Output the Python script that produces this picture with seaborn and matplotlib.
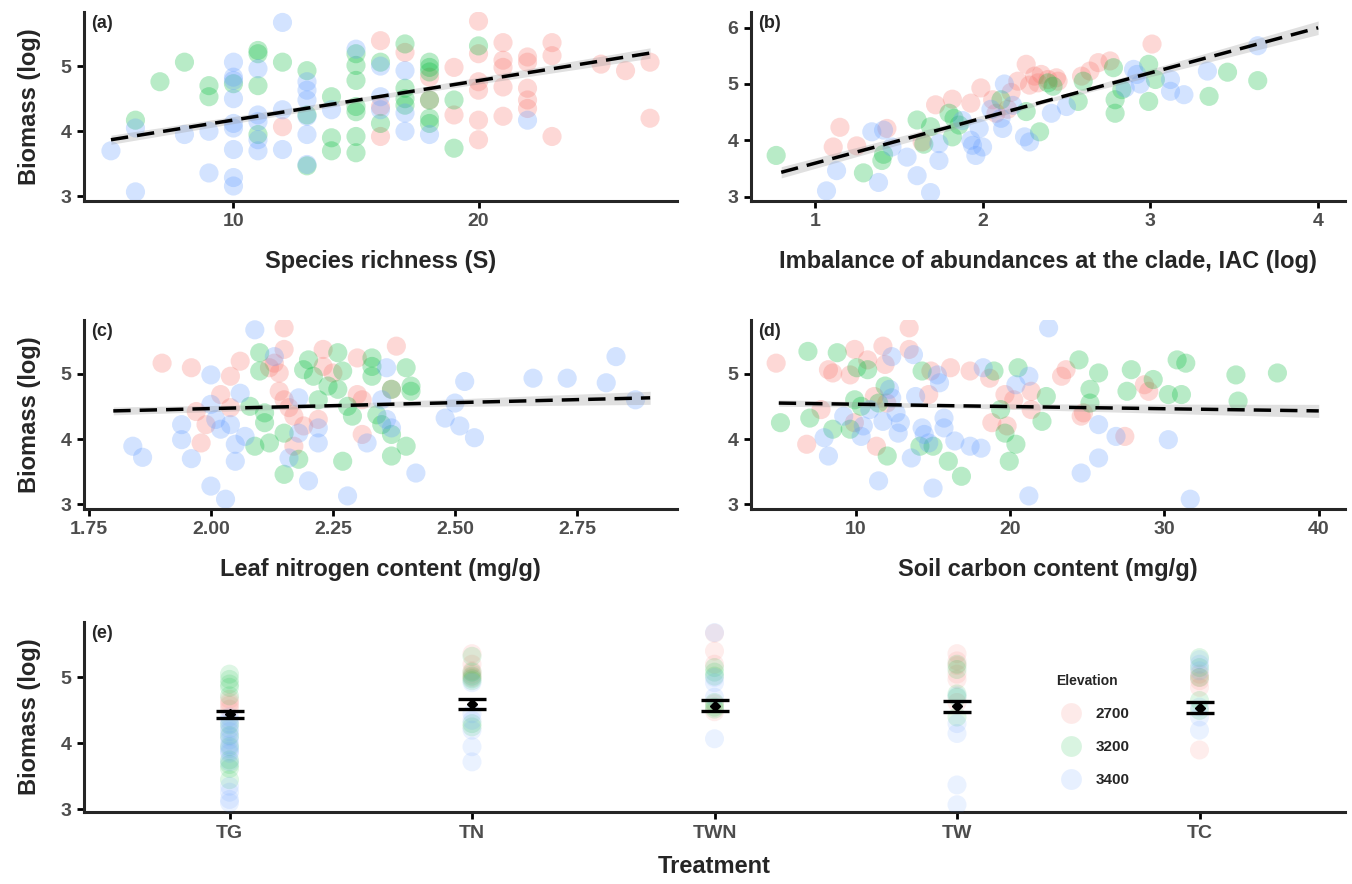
import numpy as np
import pandas as pd
import matplotlib.pyplot as plt
import seaborn as sns
from matplotlib.lines import Line2D

sns.set_style("ticks")
plt.rcParams["font.family"] = ["Liberation Sans Narrow", "Liberation Sans", "DejaVu Sans"]
plt.rcParams["font.weight"] = "bold"

ELEVATIONS = ["2700", "3200", "3400"]
PALETTE = {"2700": "#F8766D", "3200": "#00BA38", "3400": "#619CFF"}

# ---------------------------------------------------------------------------
# (a) species richness vs biomass
# ---------------------------------------------------------------------------
A_X_2700 = [12, 16, 16, 16, 17, 18, 18, 19, 19, 20, 20, 20, 20, 20, 20, 21, 21, 21, 21, 21,
            22, 22, 22, 22, 22, 23, 23, 23, 25, 26, 27, 27]
A_Y_2700 = [4.07, 5.39, 4.38, 3.92, 5.21, 4.83, 4.48, 4.98, 4.25, 5.69, 5.19, 4.76, 4.63, 4.17,
            3.87, 5.36, 5.09, 4.98, 4.68, 4.23, 5.14, 5.06, 4.66, 4.48, 4.35, 5.36, 5.16, 3.92,
            5.03, 4.93, 5.06, 4.20]
A_X_3200 = [6, 7, 8, 9, 9, 10, 11, 11, 11, 11, 12, 13, 13, 13, 14, 14, 14, 15, 15, 15, 15, 15,
            15, 15, 16, 16, 17, 17, 17, 17, 18, 18, 18, 18, 18, 18, 19, 19, 20]
A_Y_3200 = [4.17, 4.76, 5.06, 4.70, 4.53, 4.73, 5.24, 5.19, 4.70, 3.95, 5.06, 4.93, 3.47, 4.25,
            4.53, 3.90, 3.70, 5.19, 5.01, 4.78, 4.38, 4.30, 3.92, 3.67, 5.06, 4.12, 5.34, 4.66,
            4.50, 4.40, 5.06, 4.98, 4.91, 4.48, 4.20, 4.12, 4.48, 3.74, 5.31]
A_X_3400 = [5, 6, 6, 8, 9, 9, 10, 10, 10, 10, 10, 10, 10, 10, 10, 11, 11, 11, 11, 11, 12, 12,
            12, 13, 13, 13, 13, 13, 13, 14, 15, 16, 16, 16, 17, 17, 17, 18, 22]
A_Y_3400 = [3.70, 3.07, 4.05, 3.95, 4.00, 3.36, 5.06, 4.83, 4.78, 4.50, 4.12, 4.05, 3.72, 3.29,
            3.16, 4.96, 4.25, 4.15, 3.70, 3.87, 5.67, 4.33, 3.72, 4.76, 4.63, 4.48, 4.23, 3.95,
            3.49, 4.33, 5.26, 5.00, 4.53, 4.33, 4.93, 4.28, 4.00, 3.95, 4.17]
# fitted line and its confidence band
FIT_A_X = [5, 16, 27]
FIT_A_Y = [3.87, 4.535, 5.20]
FIT_A_LO = [3.80, 4.50, 5.12]
FIT_A_HI = [3.94, 4.57, 5.28]

# ---------------------------------------------------------------------------
# (b) IAC vs biomass
# ---------------------------------------------------------------------------
B_X_2700 = [1.11, 1.15, 1.25, 1.43, 1.64, 1.72, 1.82, 1.93, 1.99, 2.06, 2.08, 2.15, 2.21, 2.26,
            2.31, 2.35, 2.39, 2.44, 2.59, 2.64, 2.69, 2.76, 3.01, 2.17, 2.28, 2.33, 2.45]
B_Y_2700 = [3.88, 4.23, 3.90, 4.21, 3.97, 4.63, 4.73, 4.66, 4.93, 4.72, 4.48, 4.55, 5.05, 5.35,
            5.14, 5.17, 5.08, 5.11, 5.14, 5.23, 5.38, 5.41, 5.71, 4.85, 4.98, 5.02, 5.05]
B_X_3200 = [0.77, 1.29, 1.40, 1.41, 1.61, 1.65, 1.69, 1.80, 1.83, 1.86, 1.82, 2.11, 2.26, 2.34,
            2.39, 2.42, 2.60, 2.57, 2.78, 2.79, 2.79, 2.83, 2.99, 2.99, 3.03, 3.35, 3.46, 3.64]
B_Y_3200 = [3.73, 3.42, 3.64, 3.75, 4.36, 3.93, 4.24, 4.48, 4.39, 4.27, 4.06, 4.72, 4.51, 4.15,
            5.02, 4.96, 5.05, 4.69, 5.29, 4.72, 4.48, 4.90, 5.35, 4.69, 5.08, 4.78, 5.21, 5.06]
B_X_3400 = [1.07, 1.13, 1.34, 1.38, 1.41, 1.46, 1.55, 1.61, 1.69, 1.74, 1.74, 1.93, 1.94, 1.96,
            2.00, 1.98, 2.12, 2.13, 2.11, 2.25, 2.28, 2.41, 2.50, 2.85, 2.90, 2.92, 2.94, 3.12,
            3.12, 3.20, 3.34, 3.64, 2.05, 2.18, 1.88]
B_Y_3400 = [3.10, 3.46, 4.15, 3.25, 4.18, 3.88, 3.70, 3.37, 3.07, 3.64, 3.94, 4.00, 3.91, 3.73,
            3.88, 4.21, 4.21, 5.00, 4.39, 4.06, 3.97, 4.48, 4.60, 4.93, 5.26, 5.17, 5.00, 5.08,
            4.87, 4.81, 5.23, 5.68, 4.55, 4.62, 4.35]
FIT_B_X = [0.8, 2.4, 4.0]
FIT_B_Y = [3.43, 4.715, 6.00]
FIT_B_LO = [3.33, 4.68, 5.88]
FIT_B_HI = [3.53, 4.75, 6.12]

# ---------------------------------------------------------------------------
# (c) leaf nitrogen vs biomass
# ---------------------------------------------------------------------------
C_X_2700 = [1.90, 1.96, 1.98, 1.99, 1.97, 2.02, 2.04, 2.04, 2.06, 2.12, 2.13, 2.15, 2.15, 2.14,
            2.14, 2.15, 2.16, 2.17, 2.17, 2.19, 2.22, 2.23, 2.23, 2.25, 2.30, 2.30, 2.31, 2.31,
            2.38, 2.37]
C_Y_2700 = [5.16, 5.09, 3.94, 4.22, 4.42, 4.68, 4.96, 4.48, 5.19, 5.09, 5.16, 5.70, 5.37, 5.01,
            4.73, 4.60, 4.48, 4.35, 3.89, 4.20, 4.30, 5.37, 5.11, 5.01, 4.68, 5.24, 4.60, 4.07,
            5.42, 4.76]
C_X_3200 = [2.09, 2.10, 2.10, 2.11, 2.11, 2.12, 2.15, 2.15, 2.18, 2.19, 2.20, 2.21, 2.22, 2.24,
            2.26, 2.26, 2.27, 2.27, 2.28, 2.29, 2.33, 2.33, 2.33, 2.34, 2.35, 2.37, 2.37, 2.37,
            2.40, 2.41, 2.41, 2.40, 2.08]
C_Y_3200 = [3.89, 5.32, 5.04, 4.40, 4.25, 3.94, 3.46, 4.09, 3.69, 5.06, 5.21, 4.96, 4.60, 4.81,
            5.32, 4.76, 5.04, 3.66, 4.50, 4.35, 5.24, 4.96, 5.11, 4.37, 4.22, 4.07, 3.74, 4.76,
            5.09, 4.81, 4.73, 3.89, 4.50]
C_X_3400 = [1.84, 1.86, 1.94, 1.94, 1.96, 2.00, 2.00, 2.01, 2.02, 2.00, 2.03, 2.04, 2.06, 2.05,
            2.05, 2.07, 2.09, 2.13, 2.16, 2.18, 2.18, 2.20, 2.22, 2.22, 2.28, 2.32, 2.35, 2.36,
            2.36, 2.37, 2.42, 2.48, 2.50, 2.51, 2.52, 2.54, 2.66, 2.73, 2.81, 2.83, 2.87]
C_Y_3400 = [3.89, 3.72, 4.22, 3.99, 3.70, 4.98, 4.53, 4.30, 4.15, 3.28, 3.08, 4.22, 4.70, 3.92,
            3.66, 4.04, 5.67, 5.26, 3.71, 4.63, 4.09, 3.36, 3.94, 4.17, 3.13, 3.94, 4.60, 5.09,
            4.30, 4.17, 3.48, 4.32, 4.55, 4.20, 4.88, 4.02, 4.93, 4.93, 4.86, 5.26, 4.60]
FIT_C_X = [1.8, 2.25, 2.9]
FIT_C_Y = [4.43, 4.51, 4.63]
FIT_C_LO = [4.37, 4.48, 4.53]
FIT_C_HI = [4.49, 4.54, 4.73]

# ---------------------------------------------------------------------------
# (d) soil carbon vs biomass
# ---------------------------------------------------------------------------
D_X_2700 = [4.83, 6.81, 7.74, 8.22, 8.50, 9.63, 9.92, 10.76, 11.19, 11.33, 11.75, 11.89, 13.45,
            13.45, 14.72, 14.86, 16.13, 17.40, 18.67, 18.81, 19.66, 19.80, 20.23, 21.36, 21.36,
            23.33, 23.62, 24.60, 24.75, 27.43, 28.70, 28.98, 9.90, 12.00]
D_Y_2700 = [5.16, 3.92, 4.45, 5.06, 5.01, 4.98, 5.37, 5.21, 4.65, 3.89, 5.42, 5.14, 5.70, 5.37,
            4.68, 5.04, 5.09, 5.04, 4.93, 4.25, 4.68, 4.20, 4.60, 4.73, 4.45, 4.96, 5.06, 4.35,
            4.40, 4.04, 4.83, 4.73, 4.25, 4.55]
D_X_3200 = [5.11, 6.89, 7.01, 8.50, 8.79, 9.63, 9.92, 10.06, 10.34, 10.76, 11.47, 11.89, 12.03,
            14.15, 14.29, 15.00, 15.99, 16.84, 18.95, 19.38, 19.66, 19.94, 20.37, 20.51, 22.06,
            22.34, 24.46, 25.17, 25.17, 25.73, 27.57, 27.85, 29.27, 30.25, 30.82, 31.10, 31.38,
            34.63, 34.77, 37.32]
D_Y_3200 = [4.25, 5.34, 4.32, 4.15, 5.32, 4.15, 4.60, 5.09, 4.50, 5.06, 4.55, 4.81, 3.74, 3.89,
            5.04, 3.89, 3.66, 3.43, 5.04, 4.45, 4.09, 3.66, 3.92, 5.09, 4.27, 4.65, 5.21, 4.76,
            4.55, 5.01, 4.73, 5.06, 4.91, 4.68, 5.21, 4.68, 5.16, 4.98, 4.58, 5.01]
D_X_3400 = [7.94, 8.22, 9.21, 10.34, 10.48, 10.90, 11.47, 11.75, 12.32, 12.18, 12.32, 12.60,
            12.74, 12.88, 13.59, 13.73, 13.87, 14.29, 14.43, 14.72, 15.00, 15.28, 15.42, 15.71,
            15.71, 16.41, 17.40, 18.11, 18.25, 20.37, 21.21, 21.21, 22.49, 24.60, 25.73, 25.73,
            26.86, 30.25, 31.67]
D_Y_3400 = [4.02, 3.74, 4.35, 4.04, 4.20, 4.45, 3.36, 4.27, 5.26, 4.76, 4.63, 4.40, 4.09, 4.25,
            3.71, 5.29, 4.65, 4.17, 4.07, 3.94, 3.25, 4.98, 4.86, 4.32, 4.17, 3.97, 3.89, 3.86,
            5.09, 4.83, 4.96, 3.13, 5.70, 3.48, 4.22, 3.71, 4.04, 3.99, 3.08]
FIT_D_X = [5, 16, 40]
FIT_D_Y = [4.55, 4.51, 4.43]
FIT_D_LO = [4.50, 4.48, 4.33]
FIT_D_HI = [4.60, 4.54, 4.53]

# ---------------------------------------------------------------------------
# (e) treatments
# ---------------------------------------------------------------------------
TREATMENTS = ["TG", "TN", "TWN", "TW", "TC"]
TG_2700 = [4.67, 4.62, 4.58, 4.52]
TG_3200 = [5.05, 4.97, 4.90, 4.85, 4.72, 4.28, 4.12, 3.95, 3.75, 3.68, 3.62, 3.45]
TG_3400 = [4.40, 4.35, 4.30, 4.22, 4.18, 4.10, 4.05, 3.98, 3.92, 3.88, 3.85, 3.72, 3.35, 3.26,
           3.15, 3.10]
TN_2700 = [5.36, 5.20, 5.10, 5.05, 5.00]
TN_3200 = [5.32, 5.08, 5.02, 4.98, 4.95, 4.30, 4.25]
TN_3400 = [4.92, 4.45, 4.35, 4.20, 3.95, 3.72]
TWN_2700 = [5.67, 5.40, 5.20, 4.60, 4.48]
TWN_3200 = [5.15, 5.08, 5.02, 4.62, 4.55, 4.52]
TWN_3400 = [5.68, 5.00, 4.92, 4.70, 4.07]
TW_2700 = [5.36, 5.25, 5.18, 5.05, 4.97, 4.62]
TW_3200 = [5.20, 5.12, 4.75, 4.70, 4.40]
TW_3400 = [4.72, 4.30, 4.15, 3.37, 3.07]
TC_2700 = [5.05, 5.00, 4.95, 4.85, 3.90]
TC_3200 = [5.30, 5.15, 5.00, 4.65, 4.50]
TC_3400 = [5.27, 5.20, 5.10, 4.55, 4.40, 4.20]
TREAT_MEAN = [4.44, 4.60, 4.57, 4.56, 4.54]
TREAT_SE = [0.055, 0.075, 0.085, 0.080, 0.085]

LABEL_SIZE = 17
TICK_SIZE = 14


def panel_frame(xs, ys):
    parts = [pd.DataFrame({"x": x, "y": y, "elev": e}) for x, y, e in zip(xs, ys, ELEVATIONS)]
    return pd.concat(parts, ignore_index=True)


def style_axis(ax):
    sns.despine(ax=ax)
    for side in ["left", "bottom"]:
        ax.spines[side].set_linewidth(2.2)
    ax.tick_params(length=5, width=2, colors="black", labelcolor="#4D4D4D",
                   labelsize=TICK_SIZE, pad=4)
    for lab in ax.get_xticklabels() + ax.get_yticklabels():
        lab.set_fontweight("bold")


def scatter_panel(ax, df, fit, xlim, ylim, xticks, yticks, xlabel, ylabel, tag, xfmt=None):
    sns.scatterplot(data=df, x="x", y="y", hue="elev", hue_order=ELEVATIONS, palette=PALETTE,
                    s=190, alpha=0.28, linewidth=0, legend=False, ax=ax)
    fx, fy, lo, hi = fit
    ax.fill_between(fx, lo, hi, color="#999999", alpha=0.3, linewidth=0, zorder=3)
    ax.plot(fx, fy, color="black", lw=2.5, dashes=(5, 2.6), zorder=4)
    ax.set_xlim(*xlim)
    ax.set_ylim(*ylim)
    ax.set_xticks(xticks)
    if xfmt:
        ax.set_xticklabels([xfmt.format(t) for t in xticks])
    ax.set_yticks(yticks)
    ax.set_xlabel(xlabel, fontsize=LABEL_SIZE, fontweight="bold", labelpad=14)
    ax.set_ylabel(ylabel, fontsize=LABEL_SIZE, fontweight="bold")
    ax.text(0.012, 0.985, tag, transform=ax.transAxes, fontsize=13, fontweight="bold",
            va="top", ha="left")
    style_axis(ax)


fig = plt.figure(figsize=(13.52, 8.84), dpi=100)
W, H = 1352, 884


def add_axes(left, top, right, bottom):
    return fig.add_axes([left / W, 1 - bottom / H, (right - left) / W, (bottom - top) / H])


ax_a = add_axes(84, 12, 677, 201)
ax_b = add_axes(751, 12, 1345, 201)
ax_c = add_axes(84, 320, 677, 509)
ax_d = add_axes(751, 320, 1345, 509)
ax_e = add_axes(84, 622, 1345, 812)

scatter_panel(ax_a, panel_frame([A_X_2700, A_X_3200, A_X_3400], [A_Y_2700, A_Y_3200, A_Y_3400]),
              (FIT_A_X, FIT_A_Y, FIT_A_LO, FIT_A_HI), (3.9, 28.1), (2.93, 5.83), [10, 20],
              [3, 4, 5], "Species richness (S)", "Biomass (log)", "(a)")
scatter_panel(ax_b, panel_frame([B_X_2700, B_X_3200, B_X_3400], [B_Y_2700, B_Y_3200, B_Y_3400]),
              (FIT_B_X, FIT_B_Y, FIT_B_LO, FIT_B_HI), (0.62, 4.16), (2.92, 6.28), [1, 2, 3, 4],
              [3, 4, 5, 6], "Imbalance of abundances at the clade, IAC (log)", "", "(b)")
scatter_panel(ax_c, panel_frame([C_X_2700, C_X_3200, C_X_3400], [C_Y_2700, C_Y_3200, C_Y_3400]),
              (FIT_C_X, FIT_C_Y, FIT_C_LO, FIT_C_HI), (1.74, 2.955), (2.93, 5.82),
              [1.75, 2.0, 2.25, 2.5, 2.75], [3, 4, 5],
              "Leaf nitrogen content (mg/g)", "Biomass (log)", "(c)", xfmt="{:.2f}")
scatter_panel(ax_d, panel_frame([D_X_2700, D_X_3200, D_X_3400], [D_Y_2700, D_Y_3200, D_Y_3400]),
              (FIT_D_X, FIT_D_Y, FIT_D_LO, FIT_D_HI), (3.2, 41.7), (2.93, 5.82),
              [10, 20, 30, 40], [3, 4, 5], "Soil carbon content (mg/g)", "", "(d)")
for ax in (ax_a, ax_c):
    ax.yaxis.set_label_coords(-0.072, 0.5)

# panel (e)
groups = {"TG": (TG_2700, TG_3200, TG_3400), "TN": (TN_2700, TN_3200, TN_3400),
          "TWN": (TWN_2700, TWN_3200, TWN_3400), "TW": (TW_2700, TW_3200, TW_3400),
          "TC": (TC_2700, TC_3200, TC_3400)}
rows = []
for t in TREATMENTS:
    for elev, vals in zip(ELEVATIONS, groups[t]):
        rows += [{"treatment": t, "elev": elev, "y": v} for v in vals]
df_e = pd.DataFrame(rows)

sns.stripplot(data=df_e, x="treatment", y="y", hue="elev", order=TREATMENTS,
              hue_order=ELEVATIONS, palette=PALETTE, jitter=False, size=13.7, alpha=0.13,
              linewidth=0, legend=False, ax=ax_e)
ax_e.errorbar(range(len(TREATMENTS)), TREAT_MEAN, yerr=TREAT_SE, fmt="D", ms=5,
              color="black", ecolor="black", elinewidth=2, capsize=10, capthick=2.4, zorder=5)
ax_e.set_xlim(-0.6, 4.6)
ax_e.set_ylim(2.96, 5.84)
ax_e.set_yticks([3, 4, 5])
ax_e.set_xlabel("Treatment", fontsize=LABEL_SIZE, fontweight="bold", labelpad=10)
ax_e.set_ylabel("Biomass (log)", fontsize=LABEL_SIZE, fontweight="bold")
ax_e.yaxis.set_label_coords(-0.034, 0.5)
ax_e.text(0.006, 0.985, "(e)", transform=ax_e.transAxes, fontsize=13, fontweight="bold",
          va="top", ha="left")
style_axis(ax_e)

handles = [Line2D([], [], ls="", marker="o", markersize=15, markerfacecolor=PALETTE[e],
                  markeredgewidth=0, alpha=0.15) for e in ELEVATIONS]
leg = ax_e.legend(handles, ELEVATIONS, title="Elevation", loc="upper left",
                  bbox_to_anchor=(0.76, 0.8), frameon=False, labelspacing=1.25,
                  handletextpad=0.6, prop=dict(size=11, weight="bold"),
                  title_fontproperties=dict(size=10, weight="bold"))
leg._legend_box.align = "left"

fig.savefig("out.png", dpi=100)
